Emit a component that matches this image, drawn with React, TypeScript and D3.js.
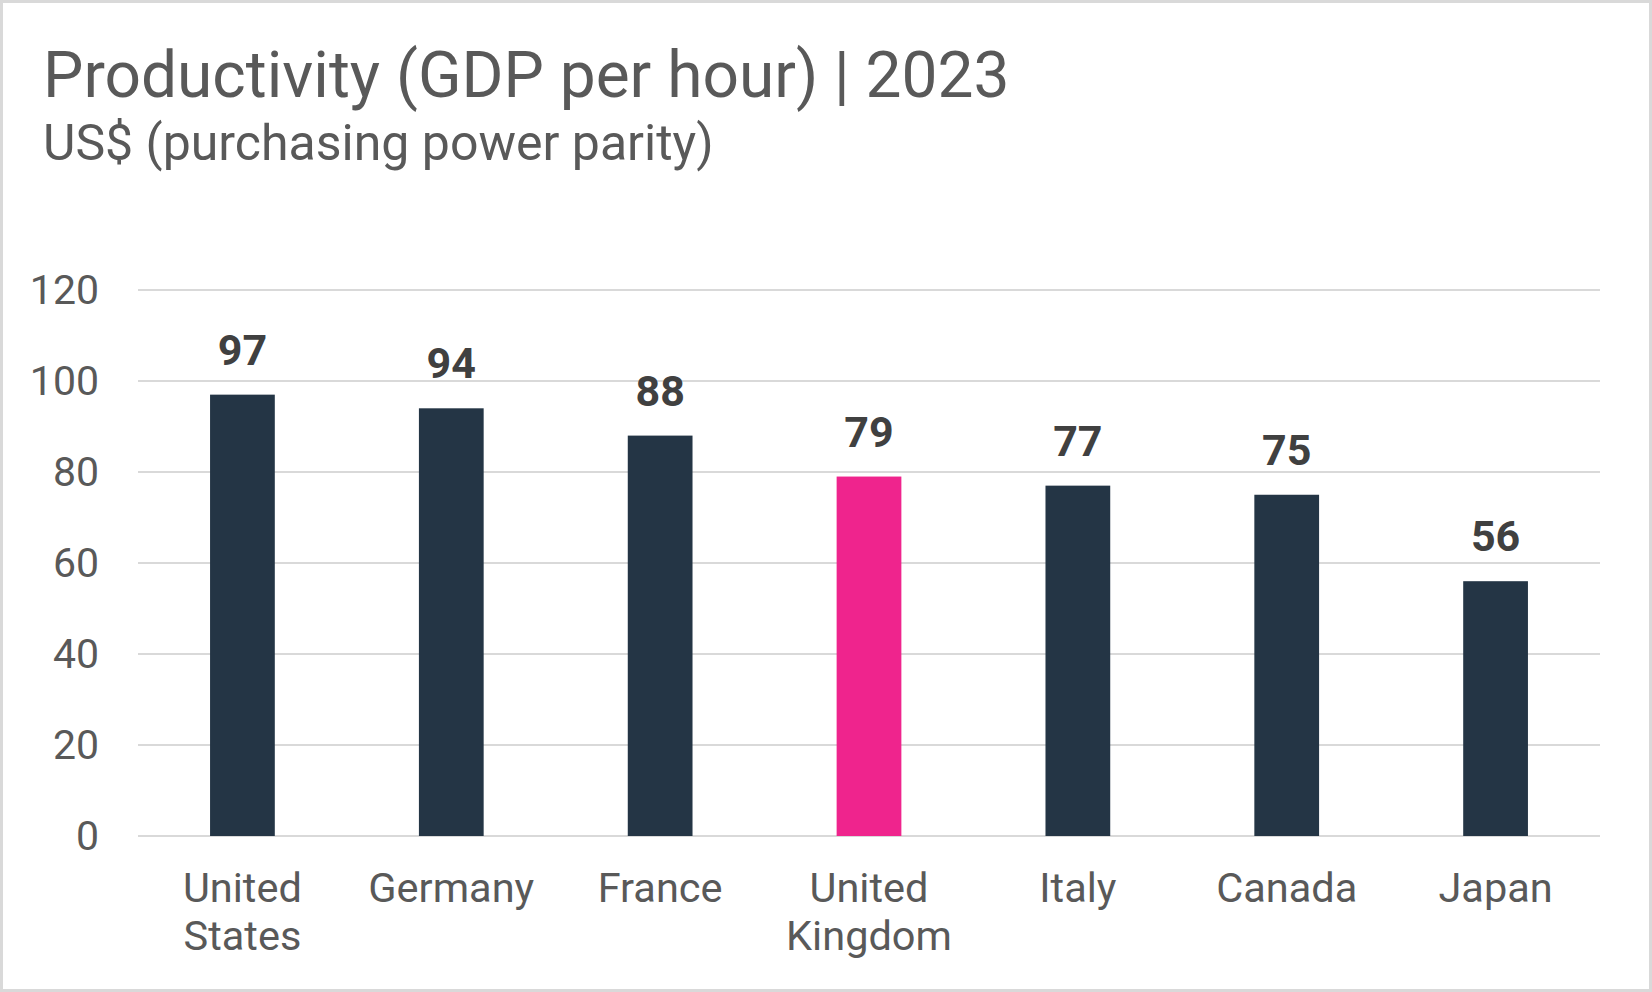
import * as d3 from "d3";
import { useEffect } from "react";

const countries = [
  ["United", "States"],
  ["Germany"],
  ["France"],
  ["United", "Kingdom"],
  ["Italy"],
  ["Canada"],
  ["Japan"],
];
const productivity = [97, 94, 88, 79, 77, 75, 56];
const yTicks = [0, 20, 40, 60, 80, 100, 120];
const highlight = "United Kingdom";

export default function App() {
  useEffect(() => {
    document.body.style.margin = "0";
  }, []);

  const width = 1652;
  const height = 992;
  const margin = { top: 290, right: 52, bottom: 156, left: 138 };
  const names = countries.map((c) => c.join(" "));

  const xScale = d3
    .scaleBand()
    .domain(names)
    .range([margin.left, width - margin.right])
    .paddingInner(0.69)
    .paddingOuter(0.345);

  const yScale = d3
    .scaleLinear()
    .domain([0, 120])
    .range([height - margin.bottom, margin.top]);

  const font = "Roboto, 'Noto Sans', sans-serif";

  return (
    <svg width={width} height={height} style={{ display: "block" }} fontFamily={font}>
      <rect x={1.5} y={1.5} width={width - 3} height={height - 3} fill="white" stroke="#d9d9d9" strokeWidth={3} />
      <text x={43} y={97} fontSize={64} fill="#595959">
        Productivity (GDP per hour) | 2023
      </text>
      <text x={43} y={160} fontSize={50} fill="#595959">
        US$ (purchasing power parity)
      </text>

      {yTicks.map((t) => (
        <g key={t}>
          <line
            x1={margin.left}
            x2={width - margin.right}
            y1={yScale(t)}
            y2={yScale(t)}
            stroke="#d9d9d9"
            strokeWidth={2}
          />
          <text x={99} y={yScale(t) + 14} textAnchor="end" fontSize={41} fill="#595959">
            {t}
          </text>
        </g>
      ))}

      {names.map((name, i) => {
        const x = xScale(name) ?? 0;
        const cx = x + xScale.bandwidth() / 2;
        const v = productivity[i];
        return (
          <g key={name}>
            <rect
              x={x}
              y={yScale(v)}
              width={xScale.bandwidth()}
              height={yScale(0) - yScale(v)}
              fill={name === highlight ? "#ef248d" : "#243545"}
            />
            <text x={cx} y={yScale(v) - 30} textAnchor="middle" fontSize={43} fontWeight="bold" fill="#404040">
              {v}
            </text>
            <text textAnchor="middle" fontSize={41.5} fill="#595959">
              {countries[i].map((line, j) => (
                <tspan key={j} x={cx} y={902 + j * 48}>
                  {line}
                </tspan>
              ))}
            </text>
          </g>
        );
      })}
    </svg>
  );
}
